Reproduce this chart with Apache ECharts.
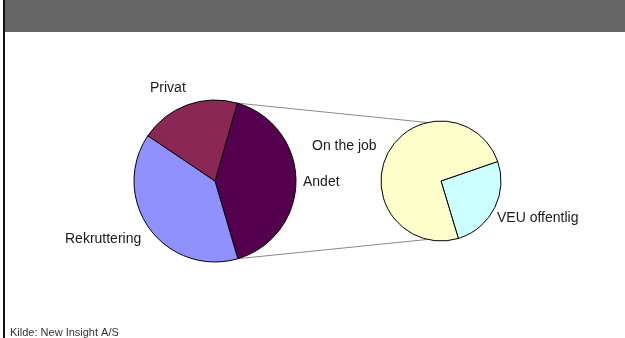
<!DOCTYPE html>
<html>
<head>
<meta charset="utf-8">
<script src="https://cdn.jsdelivr.net/npm/echarts@6/dist/echarts.min.js"></script>
<style>
html,body{margin:0;padding:0;background:#fff;}
#c{width:625px;height:338px;}
</style>
</head>
<body>
<div id="c"></div>
<script>
// Data
var mainNames = ['Andet', 'Rekruttering', 'Privat'];
var mainValues = [41, 39, 20];
var subNames = ['VEU offentlig', 'On the job'];
var subValues = [10.5, 30.5];
var sourceText = 'Kilde: New Insight A/S';

// Styles / layout
var mainColors = ['#55004f', '#9090ff', '#8b2755'];
var subColors = ['#ccffff', '#ffffcc'];
var mainCenter = [215, 181], mainR = 81, mainStart = 74;
var subCenter = [441, 181], subR = 60, subStart = 19;
var labelPos = {
  '0-0': [303, 182], '0-1': [65, 239], '0-2': [150, 88],
  '1-0': [497, 218], '1-1': [312, 146]
};

var chart = echarts.init(document.getElementById('c'), null, {renderer: 'canvas'});

function mk(names, values, colors) {
  return names.map(function (n, i) {
    return {name: n, value: values[i], itemStyle: {color: colors[i]}};
  });
}

// connector endpoints derived from the exploded slice (Andet) angles
var total = mainValues.reduce(function (a, b) { return a + b; }, 0);
var a0 = (90 - mainStart) * Math.PI / 180;
var a1 = a0 + mainValues[0] / total * 2 * Math.PI;
function pt(c, r, ang) { return [c[0] + r * Math.sin(ang), c[1] - r * Math.cos(ang)]; }
var p0 = pt(mainCenter, mainR, a0), p1 = pt(mainCenter, mainR, a1);
var tilt = -13 * Math.PI / 180;
var q0 = pt(subCenter, subR, tilt), q1 = pt(subCenter, subR, Math.PI - tilt);

var labelCfg = {
  show: true, position: 'outside', formatter: '{b}', overflow: 'none', width: 200,
  color: '#1a1a1a', fontSize: 14, fontFamily: 'Liberation Sans, Arial, sans-serif'
};

chart.setOption({
  animation: false,
  backgroundColor: '#ffffff',
  graphic: [
    {type: 'rect', shape: {x: 5, y: 0, width: 620, height: 32}, style: {fill: '#666666'}},
    {type: 'rect', shape: {x: 3, y: 0, width: 2, height: 338}, style: {fill: '#111111'}},
    {type: 'line', shape: {x1: p0[0], y1: p0[1], x2: q0[0], y2: q0[1]}, style: {stroke: '#8a8a8a', lineWidth: 1}, z: 1},
    {type: 'line', shape: {x1: p1[0], y1: p1[1], x2: q1[0], y2: q1[1]}, style: {stroke: '#8a8a8a', lineWidth: 1}, z: 1},
    {type: 'text', left: 10, top: 327, style: {text: sourceText, fill: '#333333', fontSize: 11, fontFamily: 'Liberation Sans, Arial, sans-serif'}}
  ],
  series: [
    {
      type: 'pie', center: mainCenter, radius: mainR, startAngle: mainStart, clockwise: true,
      silent: true, z: 3,
      itemStyle: {borderColor: '#000', borderWidth: 1},
      label: labelCfg, labelLine: {show: false},
      labelLayout: function (p) {
        var pos = labelPos['0-' + p.dataIndex];
        return {x: pos[0], y: pos[1], align: 'left', verticalAlign: 'middle'};
      },
      data: mk(mainNames, mainValues, mainColors)
    },
    {
      type: 'pie', center: subCenter, radius: subR, startAngle: subStart, clockwise: true,
      silent: true, z: 3,
      itemStyle: {borderColor: '#000', borderWidth: 1},
      label: labelCfg, labelLine: {show: false},
      labelLayout: function (p) {
        var pos = labelPos['1-' + p.dataIndex];
        return {x: pos[0], y: pos[1], align: 'left', verticalAlign: 'middle'};
      },
      data: mk(subNames, subValues, subColors)
    }
  ]
});
</script>
</body>
</html>
